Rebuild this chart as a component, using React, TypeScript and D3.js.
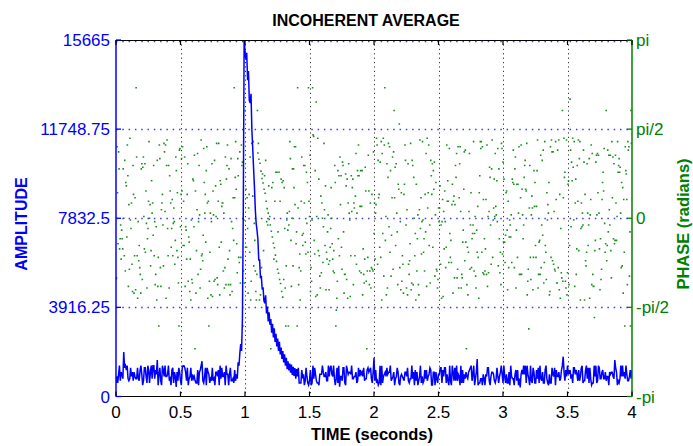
import React from "react";
import * as d3 from "d3";

// ---------- data ----------
const AMP_DT = 1 / 150; // seconds between amplitude samples
const AMPLITUDE = [
  595, 880, 595, 975, 1355, 690, 1070, 975, 785, 1950, 1260, 1355, 1165, 1355, 785, 690, 785, 1260, 880, 1070,
  690, 1070, 880, 785, 785, 1260, 785, 690, 1165, 1355, 975, 500, 690, 1260, 1260, 880, 595, 1355, 1165, 595,
  1070, 1355, 785, 1355, 1355, 785, 1165, 975, 1600, 500,
  975, 1260, 690, 500, 1355, 1165, 880, 1355, 880, 880, 975, 1355, 690, 785, 500, 1165, 1260, 595, 1070, 880,
  420, 1070, 690, 1260, 1070, 690, 500, 1260, 1355, 1355, 1260, 1070, 690, 1260, 500, 785, 880, 1260, 690, 975,
  785, 880, 690, 595, 595, 1165, 500, 1070, 1165, 1355,
  1550, 690, 595, 880, 1260, 500, 1260, 1070, 975, 595, 785, 690, 1260, 690, 785, 500, 1070, 1070, 880, 1165,
  500, 1355, 785, 1260, 880, 880, 1070, 500, 1355, 975, 975, 500, 975, 1260, 690, 690, 785, 595, 1165, 690,
  975, 785,
  1500, 1350, 1900, 2300, 2000, 3400, 8100, 15665, 15200, 14800, 15100, 13900, 14300, 13000, 12900, 13300,
  11700, 10900, 10000, 9200, 8200, 7600, 7300, 6900, 6000, 6000, 5200, 5300, 4700, 4800, 4200,
  4100, 4450, 3650, 3950, 3300, 3700, 3150, 3400, 2800, 3200, 2600, 3000, 2400, 2750, 2200, 2550, 2000, 2400,
  1850, 2150, 1650, 2000, 1500, 1850, 1350, 1700, 1200, 1550, 1150, 1450, 1050, 1400, 950, 1300, 900, 1250,
  780, 1200,
  880, 1260, 595, 595, 595, 1165, 880, 975, 500, 690, 1260, 880, 595, 500, 690, 1165, 500, 595, 1355, 785,
  1260, 975, 690, 595, 595, 500, 975, 975, 975, 1355, 1070, 880, 880, 1070, 690, 690, 1355, 880, 1260, 1355,
  975, 880, 1355, 785, 500, 785, 1260, 595, 1355, 430,
  880, 880, 690, 1260, 1260, 595, 500, 1355, 1165, 975, 1070, 1070, 975, 1355, 785, 785, 880, 880, 1070, 595,
  690, 1260, 880, 1165, 975, 1070, 880, 1260, 690, 785, 785, 1165, 1260, 1070, 1165, 1260, 785, 595, 1070, 1700,
  690, 1165, 595, 690, 500, 595, 1355, 500, 1355, 595,
  880, 975, 1070, 880, 1260, 975, 1070, 1070, 1355, 690, 785, 880, 1070, 500, 785, 880, 1260, 1070, 595, 500,
  880, 975, 880, 785, 690, 1070, 1070, 880, 1260, 690, 595, 785, 785, 1355, 785, 1070, 500, 1165, 690, 1070,
  500, 690, 880, 1355, 595, 880, 595, 690, 1165, 785,
  1165, 690, 880, 975, 1260, 1165, 500, 500, 1070, 1070, 500, 1070, 785, 595, 975, 975, 1260, 1260, 595, 1165,
  880, 1260, 1260, 595, 975, 690, 500, 1355, 690, 500, 1355, 1070, 690, 1260, 690, 1355, 690, 975, 880, 500,
  1355, 595, 1165, 595, 975, 785, 1070, 880, 785, 1070,
  1165, 1260, 1355, 690, 975, 1355, 500, 785, 1070, 1650, 500, 595, 595, 785, 785, 500, 975, 785, 500, 975,
  880, 1260, 1260, 690, 500, 880, 1070, 1070, 975, 690, 595, 785, 1260, 880, 595, 880, 1070, 1355, 975, 595,
  1355, 880, 595, 975, 595, 595, 1070, 500, 1355, 880,
  785, 785, 500, 975, 1165, 690, 1165, 500, 785, 400, 975, 1165, 975, 1355, 975, 1355, 595, 1355, 975, 785,
  500, 1355, 690, 595, 1260, 1070, 595, 595, 1165, 785, 1260, 595, 1355, 785, 690, 1070, 595, 595, 1165, 1355,
  785, 595, 500, 975, 595, 595, 1260, 975, 880, 1260,
  500, 1165, 880, 880, 1070, 690, 785, 1165, 1355, 1750, 1070, 690, 1165, 880, 1355, 975, 1070, 1165, 785, 975,
  595, 1260, 1260, 975, 1165, 975, 690, 1165, 690, 880, 1260, 1355, 595, 690, 690, 1165, 1355, 785, 1260, 595,
  1260, 785, 500, 595, 595, 1355, 880, 1355, 595, 690,
  1355, 1260, 785, 785, 1070, 1165, 785, 785, 1070, 690, 880, 880, 500, 1070, 975, 1070, 1070, 880, 785, 1600,
  1260, 1070, 500, 690, 595, 785, 1355, 880, 1355, 880, 1070, 785, 1355, 975, 690, 690, 880, 1165, 785, 1165,
];

const PHASE_DT = 0.004; // seconds between phase samples
const PHASE = [
  -1.08, -1.05, 1.26, 0.45, -0.45, 1.17, 0.87, -0.54, -0.36, -0.12, -0.72, -0.21, -0.36, -0.54, 0.87, 0, -0.66, 1.02, -0.93, 0.63, 0.57, -0.33, 1.29, 0.75, -1.2,
  0.24, -0.9, 1.41, -0.03, -0.18, 0.27, -0.81, -1.29, 0.93, 0.42, -1.32, -0.66, 0.36, -1.26, 2.3, 1.08, -0.66, -1.41, -0.06, -0.75, -0.48, -0.87, -0.99, -1.32, 0.87,
  0.96, -1.08, 0.9, 1.08, 0.03, -0.54, 0.96, -0.6, 0.48, -0.09, -1.23, -0.36, -0.18, 0.3, 1.35, 0, 0.24, -0.84, -0.57, 0.66, 0.09, 0.27, -0.3, 0.93, -0.66,
  -0.06, -1.17, -0.99, -0.15, -1.44, 1.02, -1.2, -0.69, -1.9, 1.29, 1.05, -0.87, -1.2, 0.15, 0.27, 0.42, -0.12, -0.84, 1.32, 1.17, 0.12, 1.29, -1.41, 0.93, 1.38,
  -0.18, -0.66, 0.93, -1.23, 0.75, 0.48, 0.27, -0.51, -0.18, 0.33, -0.66, -0.09, 0.18, -0.06, -0.81, -0.39, 1.08, 0.84, -0.57, 0.45, -0.69, -1.14, -1.9, 1.2, 1.23,
  -0.15, 0.42, 1.05, 0.48, 1.26, -0.48, 0.3, -0.48, 1.08, -1.2, -0.15, -0.21, -0.72, 0.42, 0.96, -1.11, -0.33, -0.42, -1.29, -0.72, -1.44, -0.03, -1.08, -1.14, 0.69,
  0.66, -0.15, 1.11, -2.3, 0.48, -1.32, -0.57, 0.15, 1.14, -0.99, -0.06, 0.93, 0.06, -1.23, -0.9, 1.38, -0.66, -0.63, -0.75, -0.3, 1.23, 0.63, 0.09, 0.42, -0.42,
  0.84, 1.26, 0.27, -1.41, 0.3, -1.9, -1.11, -0.6, 0.09, -1.35, -0.06, 0.96, -1.38, 0.48, 0.06, -1.11, 1.02, -1.08, 0.57, 0.03, 1.32, -1.05, -1.17, 0.3, 1.32,
  -0.51, -1.35, 0.66, 0.6, -0.42, 0.21, 0.27, 0.27, -0.93, 0.09, -1.23, -0.87, 1.08, -1.17, 0.69, 0.93, 1.29, -0.72, -1.17, 0.87, -0.57, -1.35, -1.17, 1.05, -0.06,
  -1.29, -0.18, 0.36, -0.39, 2.3, 0.36, 0.72, 1.35, 0.51, -0.45, -0.96, 1.05, 0.75, -0.69, -0.78, 1.17, -1.14, -0.69, 1.29, 0.93, 0.99, -1.9, -0.93, -0.03, -1.14,
  1.9, -0.51, 0.51, -0.51, 0.36, -0.18, -1.32, 0.18, 0.42, -0.6, 1.08, -1.44, -1.11, 1.32, 1.32, 0.39, 1.35, -0.84, -0.09, -0.39, -0.93, -1.29, -1.44, -0.99, 1.9,
  1.15, 1.32, 1.04, -1.44, 0.97, -1.35, 0.83, -0.87, 0.7, 0.78, 0.62, -0.57, 0.51, 0.75, 0.44, 1.02, 0.3, -0.06, 0.17, -0.12, 0.09, 0.57, -0.02, 0.03, -0.12,
  -2.3, -0.23, 0.54, -0.33, 0.63, -0.44, -0.72, -0.52, 0.3, -0.65, 0.81, -0.76, 0.81, -0.9, -0.24, -0.97, 0.81, -1.08, 0.3, -1.15, 0.69, -1.29, 0.63, -1.39, 0.66,
  -1.08, 0.54, -0.18, -1.23, -1.9, -0.84, -0.03, 0.09, -0.21, -1.9, -0.12, 0.12, 1.35, 1.05, -0.39, -1.2, 0, 0.87, -0.84, 0.87, 0.54, 1.26, 0.24, 1.26, -0.45,
  -0.24, -1.9, 2.3, 0.18, -1.17, -0.87, -0.63, -1.44, -0.93, 0.3, 1.08, -0.3, -0.48, -0.27, 0.93, 0.27, 0.93, -0.42, -0.63, 0.81, -0.09, 0.63, -0.6, 2.3, 0.3,
  0.03, 1.11, -1.29, -0.87, -1.11, -0.03, 2.3, 1.47, 1.44, -0.39, -0.63, 0.84, -1.38, 2.05, 0.03, -1.35, 1.41, -0.57, 0.69, -0.66, -1.02, -1.23, 0.39, -0.96, 0.27,
  0, -0.78, -0.15, 1.32, 0.15, -0.48, 0.57, -1.26, -0.6, -0.72, -0.24, 0.06, -0.81, -1.26, -0.75, -0.51, -0.18, 0.54, 0, -0.45, -0.72, -0.93, -0.57, -0.96, 0.93,
  0.63, -1.9, -1.62, -1.41, -1.11, 0.84, -0.36, 0.75, -0.66, 1.08, 0.24, 0.75, -0.51, -0.9, 0.99, 0.93, -0.24, -1.32, -0.99, -0.99, 0.78, 0.57, -1.08, 0.69, -1.41,
  0.27, 0.96, 0.09, -0.03, -1.38, -0.66, 0.75, 0.12, 0.54, 0.69, -1.17, 0.27, 0.18, -0.66, 0.39, 1.14, -0.81, 0.09, 0.84, 0.75, 1.29, 0.75, -0.93, 0.21, 0.84,
  -0.96, 0.21, 0.84, -1.35, -0.54, -0.99, -1.14, -0.72, 0.9, 0.48, -1.11, -2.3, -0.93, -0.69, 1.11, 0.48, -1.17, -0.93, 0.27, -1.23, -0.87, 0.42, -0.9, -0.93, 1.17,
  -0.27, 0.27, -0.72, 0.09, 0.24, 1.41, 1.29, -0.81, 1.02, 0.36, 0.42, -0.51, 0.99, -0.69, 1.35, -1.44, 1.14, -0.27, 1.41, -1.02, 1.29, 2.3, -0.39, 0.03, -1.35,
  0.96, -1.23, 0.72, 1.32, -0.15, 1.26, -0.6, 0.84, -1.02, -0.3, 0.36, 1.08, -0.9, 1.17, 1.9, 0.36, 0.9, -0.48, 0.96, 0.09, -0.24, -1.17, 0.6, 0.51, 1.66,
  -0.87, -0.06, -1.26, 0.45, -1.11, -0.66, -0.81, -1.32, 0.42, 0.6, 1.29, 1.02, -0.12, -1.23, 0.15, -1.35, 0.96, -0.81, -0.99, -0.75, -0.45, 1.32, -1.26, -1.14, 1.02,
  0.93, -1.17, 0.72, 0, -0.66, -0.27, -1.44, 0.6, -0.93, -0.36, 0.06, -1.17, -1.35, 0.15, 1.38, -0.18, 0.36, -0.63, -0.06, 1.35, -0.03, -0.6, -0.36, -0.93, 0.42,
  -0.24, 1.14, -1.2, 1.41, 0.18, 0.45, 1.29, -0.48, -0.12, -1.14, 1.02, 0.75, 0.42, 0.96, -0.51, 0.84, 0.51, 0.99, -1.02, 0.06, 0.63, -0.9, -0.93, -1.23, -1.08,
  0.18, -0.06, 0.18, 0.57, -0.81, -0.12, -1.41, -0.06, 0.33, -1.38, 0.12, -0.54, 0.48, -0.06, -0.87, -0.51, 1.29, 0.3, 0.66, 0.3, -0.78, 1.23, -0.27, -0.69, -0.39,
  -0.78, 0.24, 0.6, -1.32, 0.3, 0.39, -1.05, 0.24, 0.93, 0.72, 1.14, -1.05, -0.9, 1.26, -1.23, 0.36, 0.96, 1.26, 0.12, -1.23, -0.99, -1.05, -0.42, -0.21, 0.51,
  1.17, -0.75, 1.2, -0.42, -2.3, -1.17, -0.51, -1.35, -0.6, 0.12, 1.14, -0.9, -0.12, 0.45, -0.87, -0.36, -0.27, -0.12, 1.35, -0.93, -0.27, 0.03, -1.02, -1.23, -0.21,
  -0.6, 0.21, -0.69, -1.41, 0.45, 0.75, 1.35, 1.23, 1.35, -0.6, 1.26, -0.96, 0.33, -0.99, -0.36, -0.93, -0.54, 0.33, -0.99, 1.29, -1.2, 0.03, -0.96, 0.12, 0.9,
  0.72, -0.12, -0.81, 0.87, 1.38, -0.69, -0.03, 0.18, 0.69, 0.03, 1.14, 0.21, 0.06, 0.66, -0.06, 1.23, -0.84, 0.87, -0.36, -0.96, -0.6, -1.17, 1.32, 1.23, -0.63,
  0.99, -0.42, 0.69, -0.42, -0.78, -0.3, 0.45, 0.48, -0.21, -1.26, 0.3, -0.87, -0.33, -0.03, -0.12, -0.33, 0.06, -0.78, 0.69, 0.63, 1.2, 0.6, -0.87, 0.87, 1.08,
  -1.23, -0.21, 0.6, -0.69, 0.6, 0.09, 1.26, -0.99, -0.99, 0.36, 1.29, -0.99, 0.51, 0.06, -0.36, -0.12, 0.72, 0.93, 1.02, 0.51, 0.48, 1.32, -1.35, -1.11, -0.9,
  -1.95, 0.18, 0.93, -0.69, -1.08, 0.06, 0.39, 0.18, -1.26, -0.69, 0.84, 0.21, 0.63, -0.48, -0.69, 0.21, 0.84, 1.38, -1.23, -0.99, -0.42, -0.39, -0.99, 1.11, -0.87,
  -0.12, 1.02, -0.3, 1.2, -1.14, -0.78, 1.35, -0.48, -0.6, -1.08, 0.45, -0.03, 0.24, 0.09, 0.63, -1.35, -1.29, 1.26, -0.69, 1.38, 1.17, -0.75, 1.17, -0.81, 0.12,
  -0.9, -0.93, 1.35, 0.33, -1.14, -1.14, 1.2, -0.87, 1.38, -1.26, 0.42, -1.41, -0.18, -0.96, -1.05, 1.9, -1.11, 0.36, 1.41, 0.72, 0.81, -1.11, -1.23, 1.38, -1.35,
  -0.96, 0.6, 0.66, -1.17, -0.48, 2.1, 1.2, -0.15, 0.99, 0.66, 1.41, 0.9, -0.03, 1.35, -1.2, 0.27, 0.69, -0.99, -0.54, 0.93, 0.3, 1.38, -0.57, 1.05, 1.35,
  -1.44, -0.18, 0.27, -0.15, 0.09, -0.12, 1.2, 0.99, -1.44, 0.42, -0.75, -0.84, -0.6, 0.96, 0.09, -0.48, -0.12, 1.05, -1.41, 0.06, 0.33, 1.29, -1.17, 1.14, -0.99,
  -1.2, -1.2, -1.75, -0.57, -0.39, 0.99, 1.11, 0.06, 1.14, 0.45, 1.11, 0.09, -0.54, -1.26, -0.36, -1.08, -0.9, 0.33, 0.63, 0.81, 0.48, 1.23, -0.09, -0.6, -0.45,
  1.9, -0.75, -0.48, 1.2, -0.24, 1.11, 0.15, -0.12, 1.11, -0.57, -1.05, 1.35, 0.36, 1.08, -0.36, 0.96, -0.45, -0.39, 1.11, 0.27, -0.39, 0.03, 1.35, 0.81, 0.93,
  1.05, 0.81, 0.9, 0.09, -0.87, 0.63, -0.84, 0.54, -1.32, 0.33, -0.6, -1.9, 1.26, 0.84, 0.78, 0.33, -1.17, 1.35, 1.2, 1.26, -1.02, -0.24, -1.9, 1.9, 1.32,
];

const X_TICKS = [0, 0.5, 1, 1.5, 2, 2.5, 3, 3.5, 4];
const X_TICK_LABELS = ["0", "0.5", "1", "1.5", "2", "2.5", "3", "3.5", "4"];
const AMP_TICKS = [0, 3916.25, 7832.5, 11748.75, 15665];
const AMP_TICK_LABELS = ["0", "3916.25", "7832.5", "11748.75", "15665"];
const PHASE_TICKS = [-Math.PI, -Math.PI / 2, 0, Math.PI / 2, Math.PI];
const PHASE_TICK_LABELS = ["-pi", "-pi/2", "0", "pi/2", "pi"];

const TITLE = "INCOHERENT AVERAGE";
const X_LABEL = "TIME (seconds)";
const Y_LABEL = "AMPLITUDE";
const Y2_LABEL = "PHASE (radians)";

// ---------- layout ----------
const W = 693;
const H = 446;
const L = 116;
const R = 632;
const T = 40;
const B = 396.5;

const BLUE = "#0000ff";
const GREEN = "#008000";
const FONT = "'Liberation Sans', Arial, sans-serif";

export default function App() {
  const x = d3.scaleLinear().domain([0, 4]).range([L, R]);
  const y = d3.scaleLinear().domain([0, 15665]).range([B, T]);
  const yp = d3.scaleLinear().domain([-Math.PI, Math.PI]).range([B, T]);

  const ampPts = AMPLITUDE.map((v, i) => [i * AMP_DT, v] as [number, number]);
  const line = d3
    .line<[number, number]>()
    .x((d) => x(d[0]))
    .y((d) => y(d[1]));

  const s = 1.6;
  const dotPath = PHASE.map((p, i) => {
    const px = x(i * PHASE_DT);
    const py = yp(p);
    return `M${(px - s / 2).toFixed(2)},${(py - s / 2).toFixed(2)}h${s}v${s}h-${s}z`;
  }).join("");

  const tickLen = 5;

  return (
    <svg
      width={W}
      height={H}
      viewBox={`0 0 ${W} ${H}`}
      style={{ position: "absolute", left: 0, top: 0, background: "#fff" }}
      fontFamily={FONT}
    >
      <defs>
        <clipPath id="plotclip">
          <rect x={L} y={T - 1} width={R - L} height={B - T + 1} />
        </clipPath>
      </defs>
      <rect x={0} y={0} width={W} height={H} fill="#fff" />

      {/* vertical grid */}
      {X_TICKS.slice(1, -1).map((t) => (
        <line
          key={"vg" + t}
          x1={Math.round(x(t)) + 0.5}
          x2={Math.round(x(t)) + 0.5}
          y1={T}
          y2={B}
          stroke="#333"
          strokeWidth={1}
          strokeDasharray="1.2,3.2"
        />
      ))}
      {/* horizontal grid */}
      {AMP_TICKS.slice(1).map((v) => (
        <line
          key={"hg" + v}
          x1={L}
          x2={R}
          y1={Math.round(y(v)) + (v === 15665 ? 1.5 : 0.5)}
          y2={Math.round(y(v)) + (v === 15665 ? 1.5 : 0.5)}
          stroke="#3a3aff"
          strokeWidth={1.3}
          strokeDasharray="1.5,4.8"
        />
      ))}

      <g clipPath="url(#plotclip)">
        <path d={dotPath} fill="#17901a" />
        <path d={line(ampPts) || ""} fill="none" stroke={BLUE} strokeWidth={1.5} />
      </g>

      {/* frame */}
      <line x1={L} x2={R} y1={T + 0.5} y2={T + 0.5} stroke="#000" strokeWidth={1} />
      <line x1={L} x2={R} y1={B} y2={B} stroke="#000" strokeWidth={1} />
      <line x1={L} x2={L} y1={T} y2={B} stroke={BLUE} strokeWidth={1.5} />
      <line x1={R} x2={R} y1={T} y2={B} stroke={GREEN} strokeWidth={1.5} />

      {/* x ticks */}
      {X_TICKS.map((t, i) => (
        <g key={"xt" + t}>
          <line x1={x(t)} x2={x(t)} y1={B} y2={B - tickLen} stroke="#000" strokeWidth={1.2} />
          <line x1={x(t)} x2={x(t)} y1={T} y2={T + tickLen} stroke="#000" strokeWidth={1.2} />
          <text x={x(t)} y={418} fontSize={17} textAnchor="middle" fill="#000">
            {X_TICK_LABELS[i]}
          </text>
        </g>
      ))}

      {/* left ticks */}
      {AMP_TICKS.map((v, i) => (
        <g key={"yt" + v}>
          <line x1={L} x2={L + tickLen} y1={y(v)} y2={y(v)} stroke={BLUE} strokeWidth={1.3} />
          <text x={110} y={y(v)} dy="0.36em" fontSize={17} textAnchor="end" fill={BLUE}>
            {AMP_TICK_LABELS[i]}
          </text>
        </g>
      ))}

      {/* right ticks */}
      {PHASE_TICKS.map((p, i) => (
        <g key={"pt" + i}>
          <line x1={R} x2={R - tickLen} y1={yp(p)} y2={yp(p)} stroke={GREEN} strokeWidth={1.3} />
          <text x={636} y={yp(p)} dy="0.36em" fontSize={17} textAnchor="start" fill={GREEN}>
            {PHASE_TICK_LABELS[i]}
          </text>
        </g>
      ))}

      {/* titles */}
      <text x={366} y={26} fontSize={16} fontWeight="bold" textAnchor="middle" fill="#000">
        {TITLE}
      </text>
      <text x={372} y={440} fontSize={16.5} fontWeight="bold" textAnchor="middle" fill="#000">
        {X_LABEL}
      </text>
      <text
        transform="translate(27,224) rotate(-90)"
        fontSize={16}
        fontWeight="bold"
        textAnchor="middle"
        fill={BLUE}
      >
        {Y_LABEL}
      </text>
      <text
        transform="translate(689,224) rotate(-90)"
        fontSize={16.5}
        fontWeight="bold"
        textAnchor="middle"
        fill={GREEN}
      >
        {Y2_LABEL}
      </text>
    </svg>
  );
}
